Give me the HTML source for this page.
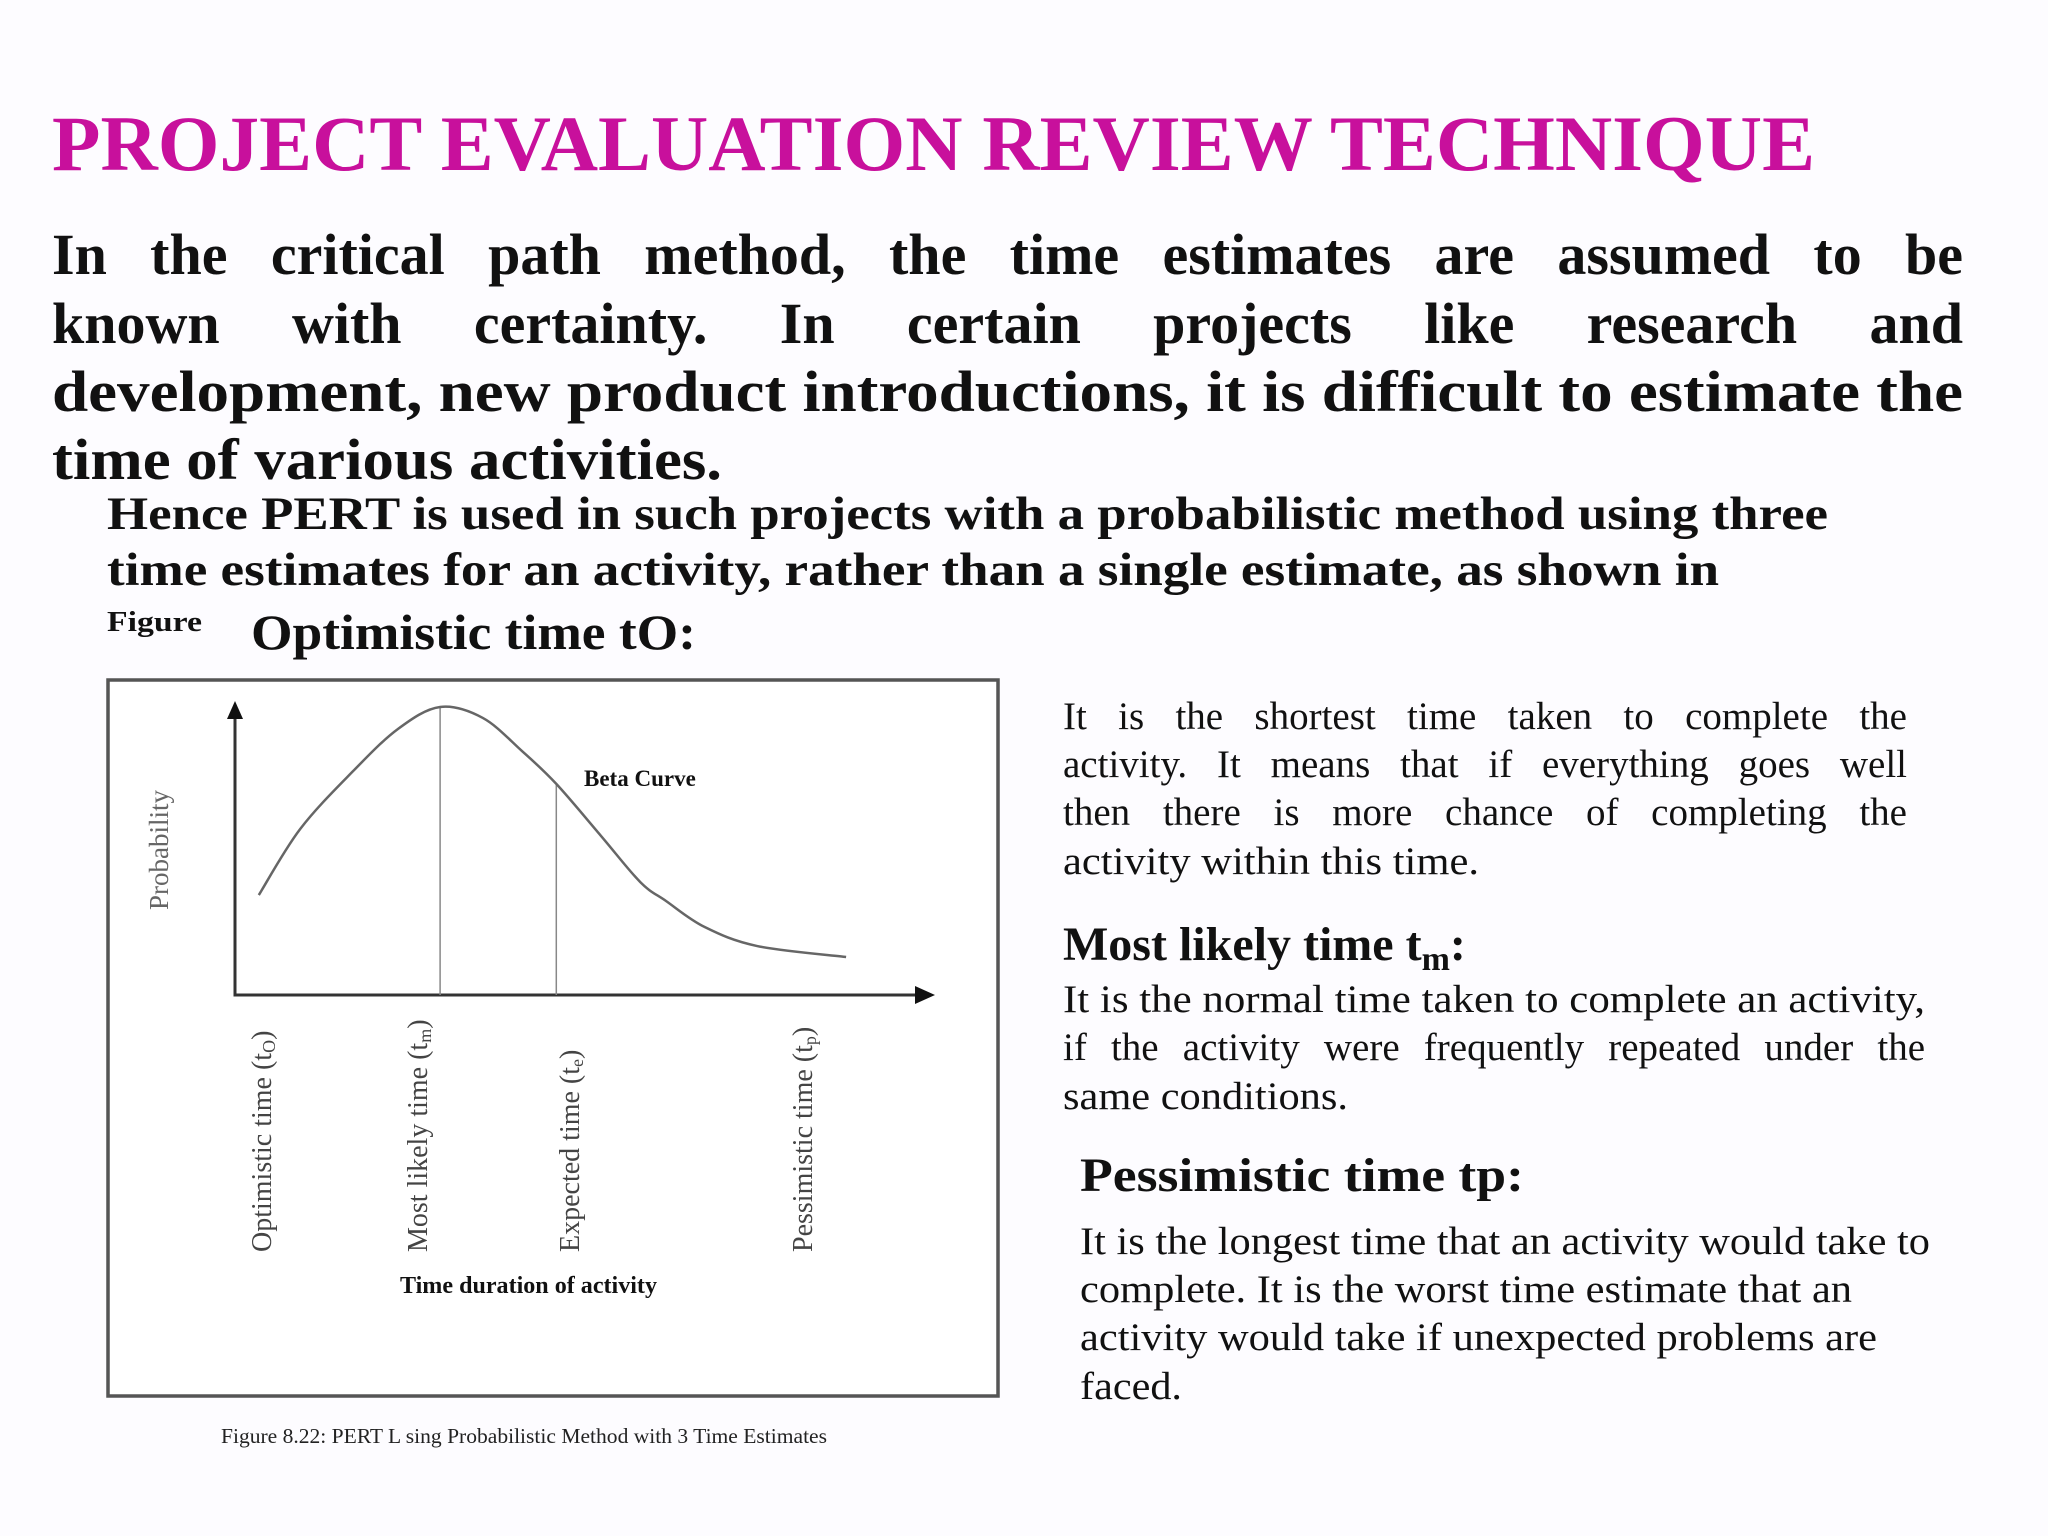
<!DOCTYPE html>
<html><head><meta charset="utf-8"><style>
html,body{margin:0;padding:0;background:#fdfcff;}
svg{display:block;}
.s{font-family:"Liberation Serif",serif;}
</style></head><body>
<svg id="root" width="2048" height="1536" viewBox="0 0 2048 1536" xmlns="http://www.w3.org/2000/svg" class="s">
<rect width="2048" height="1536" fill="#fdfcff"/>
<text x="52" y="170" font-size="78" font-weight="bold" fill="#c8109c" textLength="1763" lengthAdjust="spacingAndGlyphs">PROJECT EVALUATION REVIEW TECHNIQUE</text>
<g font-size="58" font-weight="bold" fill="#111">
<text class="j" data-w="1911" x="52" y="274">In the critical path method, the time estimates are assumed to be</text>
<text class="j" data-w="1911" x="52" y="343">known with certainty. In certain projects like research and</text>
<text x="52" y="411" textLength="1911" lengthAdjust="spacingAndGlyphs">development, new product introductions, it is difficult to estimate the</text>
<text x="52" y="479" textLength="670" lengthAdjust="spacingAndGlyphs">time of various activities.</text>
</g>
<g font-size="47" font-weight="bold" fill="#111">
<text x="107" y="529" textLength="1721" lengthAdjust="spacingAndGlyphs">Hence PERT is used in such projects with a probabilistic method using three</text>
<text x="107" y="585" textLength="1612" lengthAdjust="spacingAndGlyphs">time estimates for an activity, rather than a single estimate, as shown in</text>
</g>
<text x="107" y="631" font-size="29" font-weight="bold" fill="#111" textLength="95" lengthAdjust="spacingAndGlyphs">Figure</text>
<text x="251" y="649" font-size="50" font-weight="bold" fill="#111" textLength="445" lengthAdjust="spacingAndGlyphs">Optimistic time tO:</text>

<rect x="108" y="680" width="890" height="716" fill="#fff" stroke="#555" stroke-width="3.5"/>
<g id="chart"></g>
<text x="221" y="1443" font-size="21" fill="#222" textLength="606" lengthAdjust="spacingAndGlyphs">Figure 8.22: PERT L sing Probabilistic Method with 3 Time Estimates</text>

<g font-size="39" fill="#111">
<text class="j" data-w="844" x="1063" y="729">It is the shortest time taken to complete the</text>
<text class="j" data-w="844" x="1063" y="777">activity. It means that if everything goes well</text>
<text class="j" data-w="844" x="1063" y="825">then there is more chance of completing the</text>
<text x="1063" y="874" textLength="416" lengthAdjust="spacingAndGlyphs">activity within this time.</text>
</g>
<text x="1063" y="960" font-size="48" font-weight="bold" fill="#111">Most likely time t<tspan font-size="34" dy="10">m</tspan><tspan dy="-10">:</tspan></text>
<g font-size="39" fill="#111">
<text x="1063" y="1012" textLength="862" lengthAdjust="spacingAndGlyphs">It is the normal time taken to complete an activity,</text>
<text class="j" data-w="862" x="1063" y="1060">if the activity were frequently repeated under the</text>
<text x="1063" y="1109" textLength="285" lengthAdjust="spacingAndGlyphs">same conditions.</text>
</g>
<text x="1080" y="1191" font-size="48" font-weight="bold" fill="#111" textLength="444" lengthAdjust="spacingAndGlyphs">Pessimistic time tp:</text>
<g font-size="39" fill="#111">
<text x="1080" y="1254" textLength="850" lengthAdjust="spacingAndGlyphs">It is the longest time that an activity would take to</text>
<text x="1080" y="1302" textLength="772" lengthAdjust="spacingAndGlyphs">complete. It is the worst time estimate that an</text>
<text x="1080" y="1350" textLength="797" lengthAdjust="spacingAndGlyphs">activity would take if unexpected problems are</text>
<text x="1080" y="1399" textLength="102" lengthAdjust="spacingAndGlyphs">faced.</text>
</g>
</svg>
<script>
const curveTimes = [3.4, 9.3, 16.9, 23.3, 29.3, 35.4, 41, 45.9, 52.3, 57.9, 61.6, 67.1, 74.6, 87.3];
const curveProb = [0.347, 0.576, 0.778, 0.924, 1.0, 0.962, 0.847, 0.733, 0.552, 0.392, 0.326, 0.236, 0.17, 0.132];
const markerNames = ["Optimistic time (t", "Most likely time (t", "Expected time (t", "Pessimistic time (t"];
const markerSubs = ["O", "m", "e", "p"];
const labelTimes = [3.7, 26, 47.7, 81];
const guideTimes = [29.3, 45.9];

// justify word spacing
document.querySelectorAll('text.j').forEach(t => {
  const w = +t.getAttribute('data-w');
  const len = t.getComputedTextLength();
  const spaces = (t.textContent.match(/ /g) || []).length;
  if (spaces) t.setAttribute('word-spacing', ((w - len) / spaces).toFixed(2));
});

const NS = "http://www.w3.org/2000/svg";
const g = document.getElementById('chart');
const X0 = 235, X1 = 935, Y0 = 995, Y1 = 707;
function xs(t){ return X0 + t / 100 * (X1 - X0); }
function ys(p){ return Y0 - p * (Y0 - Y1); }
function interp(t){
  for (let i = 0; i < curveTimes.length - 1; i++) {
    if (t >= curveTimes[i] && t <= curveTimes[i+1]) {
      const f = (t - curveTimes[i]) / (curveTimes[i+1] - curveTimes[i]);
      return curveProb[i] + f * (curveProb[i+1] - curveProb[i]);
    }
  }
  return curveProb[curveProb.length-1];
}
function mk(tag, attrs){ const e = document.createElementNS(NS, tag); for (const k in attrs) e.setAttribute(k, attrs[k]); g.appendChild(e); return e; }

let ax = mk('path', {d:`M${X0} ${Y1} L${X0} ${Y0} L${X1-14} ${Y0}`, fill:'none', stroke:'#333', 'stroke-width':3});


let ya = mk('path', {d:`M${X0-8} ${Y1+12} L${X0} ${Y1-6} L${X0+8} ${Y1+12} Z`, fill:'#111'});


let xa = mk('path', {d:`M${X1-20} ${Y0-9} L${X1} ${Y0} L${X1-20} ${Y0+9} Z`, fill:'#111'});



guideTimes.forEach(t => {
  const l = mk('line', {x1:xs(t), x2:xs(t), y1:ys(interp(t)), y2:Y0, stroke:'#888', 'stroke-width':1.5});
  
  
});

const pts = curveTimes.map((t,i)=>[xs(t), ys(curveProb[i])]);
let d = `M${pts[0][0]} ${pts[0][1]}`;
for (let i = 0; i < pts.length-1; i++) {
  const p0 = pts[Math.max(0,i-1)], p1 = pts[i], p2 = pts[i+1], p3 = pts[Math.min(pts.length-1,i+2)];
  d += ` C${p1[0]+(p2[0]-p0[0])/6} ${p1[1]+(p2[1]-p0[1])/6} ${p2[0]-(p3[0]-p1[0])/6} ${p2[1]-(p3[1]-p1[1])/6} ${p2[0]} ${p2[1]}`;
}
const c = mk('path', {d, fill:'none', stroke:'#666', 'stroke-width':2.5});



const bt = mk('text', {x:584, y:786, 'font-size':23, 'font-weight':'bold', fill:'#111'});
bt.textContent = 'Beta Curve';



const pl = mk('text', {x:0, y:0, 'font-size':27, fill:'#666', 'text-anchor':'middle', transform:'translate(168 850) rotate(-90)'});
pl.textContent = 'Probability';



markerNames.forEach((n,i) => {
  const t = mk('text', {x:0, y:0, 'font-size':28, fill:'#444', transform:`translate(${xs(labelTimes[i])+10} 1252) rotate(-90)`});
  t.textContent = n;
  const s = document.createElementNS(NS, 'tspan');
  s.setAttribute('font-size', '18'); s.setAttribute('dy', '4'); s.textContent = markerSubs[i];
  t.appendChild(s);
  const s2 = document.createElementNS(NS, 'tspan');
  s2.setAttribute('dy', '-4'); s2.textContent = ')';
  t.appendChild(s2);
  
  
});

const xt = mk('text', {x:400, y:1293, 'font-size':24, 'font-weight':'bold', fill:'#111', textLength:257, lengthAdjust:'spacingAndGlyphs'});
xt.textContent = 'Time duration of activity';


</script>
</body></html>
